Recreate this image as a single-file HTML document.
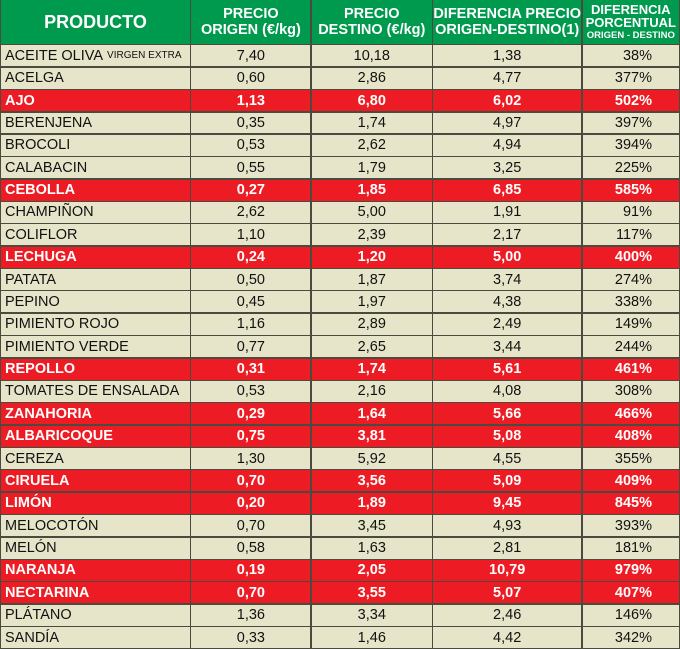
<!DOCTYPE html>
<html><head><meta charset="utf-8"><style>
html,body{margin:0;padding:0;background:#fff;}
.g{position:absolute;left:0;top:0;width:680px;height:649px;box-sizing:border-box;padding:0 1px 1px 1px;background:#4a4a3e;display:grid;
grid-template-columns:189px 119px 120px 148px 1fr;grid-template-rows:44px repeat(27,1fr);gap:1.4px;
font-family:"Liberation Sans",Arial,sans-serif;font-size:14.5px;color:#111;}
.g>div{background:#e6e5c9;display:flex;align-items:center;justify-content:center;white-space:nowrap;overflow:hidden;}
.g>div.l{justify-content:flex-start;padding-left:4px;}
.g>div.e{justify-content:flex-end;padding-right:27px;}
.g>div.h{background:#009a4e;color:#fff;font-weight:bold;text-align:center;line-height:16px;flex-direction:column;}
.g>div.p{font-size:18px;}
.g>div.s{font-size:13px;line-height:13px;}
.s small{font-size:9.5px;}
.g>div.r{background:#ed1c24;color:#fff;font-weight:bold;}
.sm{font-size:10px;margin-left:4px;}
</style></head><body>
<div class="g">
<div class="h p">PRODUCTO</div><div class="h">PRECIO<br>ORIGEN (€/kg)</div><div class="h">PRECIO<br>DESTINO (€/kg)</div><div class="h">DIFERENCIA PRECIO<br>ORIGEN-DESTINO(1)</div><div class="h s">DIFERENCIA<br>PORCENTUAL<br><small>ORIGEN - DESTINO</small></div>
<div class="l">ACEITE OLIVA<span class="sm">VIRGEN EXTRA</span></div><div>7,40</div><div>10,18</div><div>1,38</div><div class="e">38%</div>
<div class="l">ACELGA</div><div>0,60</div><div>2,86</div><div>4,77</div><div class="e">377%</div>
<div class="l r">AJO</div><div class="r">1,13</div><div class="r">6,80</div><div class="r">6,02</div><div class="e r">502%</div>
<div class="l">BERENJENA</div><div>0,35</div><div>1,74</div><div>4,97</div><div class="e">397%</div>
<div class="l">BROCOLI</div><div>0,53</div><div>2,62</div><div>4,94</div><div class="e">394%</div>
<div class="l">CALABACIN</div><div>0,55</div><div>1,79</div><div>3,25</div><div class="e">225%</div>
<div class="l r">CEBOLLA</div><div class="r">0,27</div><div class="r">1,85</div><div class="r">6,85</div><div class="e r">585%</div>
<div class="l">CHAMPIÑON</div><div>2,62</div><div>5,00</div><div>1,91</div><div class="e">91%</div>
<div class="l">COLIFLOR</div><div>1,10</div><div>2,39</div><div>2,17</div><div class="e">117%</div>
<div class="l r">LECHUGA</div><div class="r">0,24</div><div class="r">1,20</div><div class="r">5,00</div><div class="e r">400%</div>
<div class="l">PATATA</div><div>0,50</div><div>1,87</div><div>3,74</div><div class="e">274%</div>
<div class="l">PEPINO</div><div>0,45</div><div>1,97</div><div>4,38</div><div class="e">338%</div>
<div class="l">PIMIENTO ROJO</div><div>1,16</div><div>2,89</div><div>2,49</div><div class="e">149%</div>
<div class="l">PIMIENTO VERDE</div><div>0,77</div><div>2,65</div><div>3,44</div><div class="e">244%</div>
<div class="l r">REPOLLO</div><div class="r">0,31</div><div class="r">1,74</div><div class="r">5,61</div><div class="e r">461%</div>
<div class="l">TOMATES DE ENSALADA</div><div>0,53</div><div>2,16</div><div>4,08</div><div class="e">308%</div>
<div class="l r">ZANAHORIA</div><div class="r">0,29</div><div class="r">1,64</div><div class="r">5,66</div><div class="e r">466%</div>
<div class="l r">ALBARICOQUE</div><div class="r">0,75</div><div class="r">3,81</div><div class="r">5,08</div><div class="e r">408%</div>
<div class="l">CEREZA</div><div>1,30</div><div>5,92</div><div>4,55</div><div class="e">355%</div>
<div class="l r">CIRUELA</div><div class="r">0,70</div><div class="r">3,56</div><div class="r">5,09</div><div class="e r">409%</div>
<div class="l r">LIMÓN</div><div class="r">0,20</div><div class="r">1,89</div><div class="r">9,45</div><div class="e r">845%</div>
<div class="l">MELOCOTÓN</div><div>0,70</div><div>3,45</div><div>4,93</div><div class="e">393%</div>
<div class="l">MELÓN</div><div>0,58</div><div>1,63</div><div>2,81</div><div class="e">181%</div>
<div class="l r">NARANJA</div><div class="r">0,19</div><div class="r">2,05</div><div class="r">10,79</div><div class="e r">979%</div>
<div class="l r">NECTARINA</div><div class="r">0,70</div><div class="r">3,55</div><div class="r">5,07</div><div class="e r">407%</div>
<div class="l">PLÁTANO</div><div>1,36</div><div>3,34</div><div>2,46</div><div class="e">146%</div>
<div class="l">SANDÍA</div><div>0,33</div><div>1,46</div><div>4,42</div><div class="e">342%</div>
</div>
</body></html>
